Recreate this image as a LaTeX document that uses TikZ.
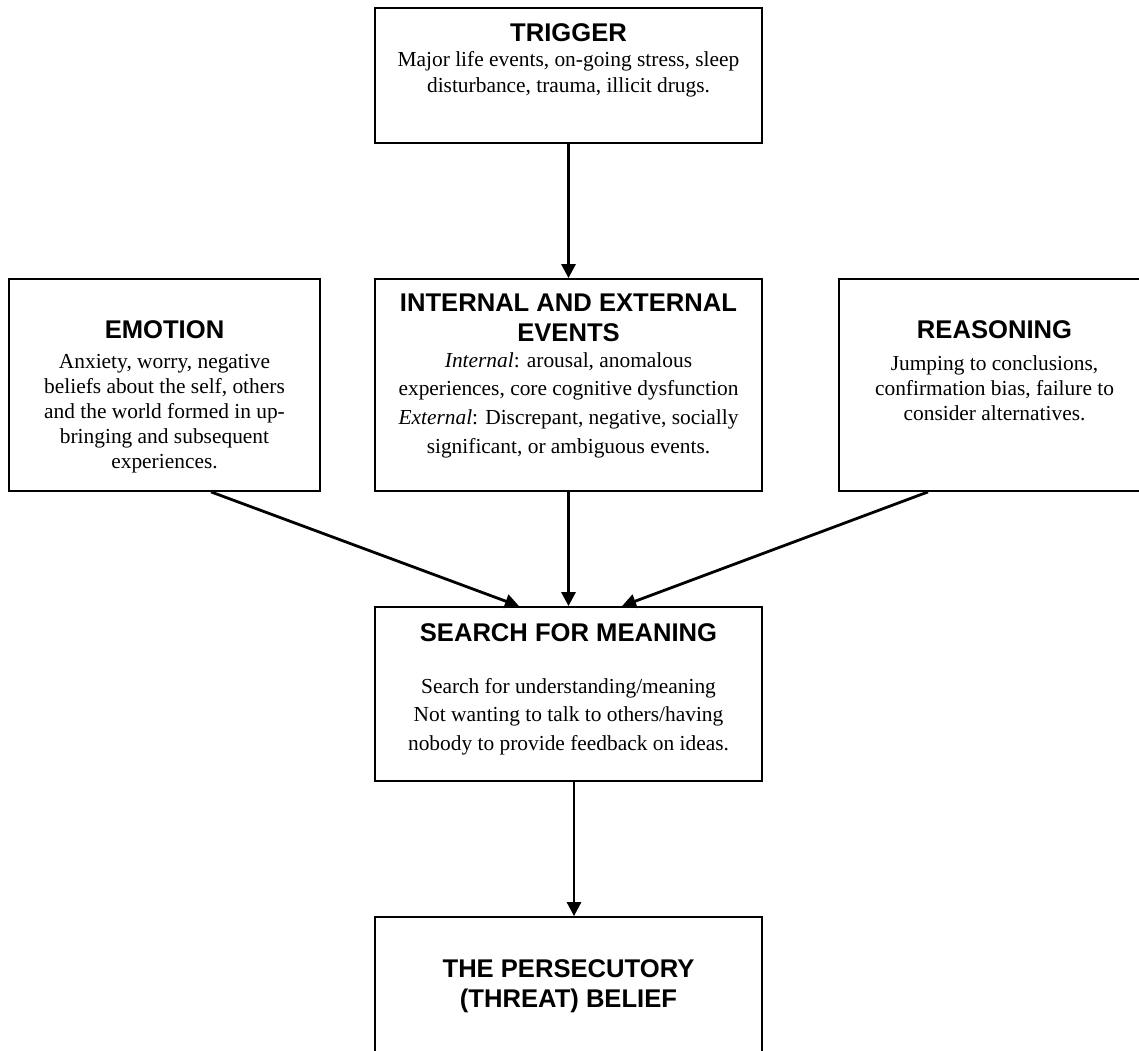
\documentclass[tikz,border=0pt]{standalone}
\usepackage{fontspec}
\setmainfont{Liberation Serif}
\setsansfont{Liberation Sans}
\usetikzlibrary{positioning,arrows.meta}

\tikzset{
  box/.style={draw, line width=0.9pt, inner sep=0pt, minimum width=193.5pt},
  head/.style={font=\sffamily\bfseries\fontsize{12.8}{14.6}\selectfont, align=center, anchor=base, inner sep=0pt},
  body/.style={font=\fontsize{10.7}{13}\selectfont, align=center, anchor=north, inner sep=0pt},
  link/.style={-{Triangle[length=7pt,width=7pt]}, line width=1.4pt}
}

\begin{document}
\begin{tikzpicture}[x=0.5pt,y=-0.5pt]
			\useasboundingbox (0,0) rectangle (1139,1050);
			\clip (0,0) rectangle (1139,1050);
			
			% Boxes
			\node[box, minimum height=67.5pt] (trigger) at (568.5,75.5) {};
			\node[box, minimum width=155.5pt, minimum height=106pt] (emotion) at (164.5,385) {};
			\node[box, minimum height=106pt] (events) at (568.5,385) {};
			\node[box, minimum width=155.5pt, minimum height=106pt] (reasoning) at (994.5,385) {};
			\node[box, minimum height=87pt] (search) at (568.5,694) {};
			\node[box, minimum height=90pt] (belief) at (568.5,1007) {};
			
			% Titles (base = last line)
			\node[head] (t-trigger) at (568.5,41.5) {TRIGGER};
			\node[head] (t-emotion) at (164.5,338) {EMOTION};
			\node[head] (t-events) at (568.5,341) {INTERNAL AND EXTERNAL\\EVENTS};
			\node[head] (t-reasoning) at (994.5,338) {REASONING};
			\node[head] (t-search) at (568.5,641) {SEARCH FOR MEANING};
			\node[head] (t-belief) at (568.5,1007) {THE PERSECUTORY\\(THREAT) BELIEF};
			
			% Texts
			\node[body] (b-trigger) at (568.5,51) {Major life events, on-going stress, sleep\\disturbance, trauma, illicit drugs.};
			\node[body, font=\fontsize{10.7}{12.5}\selectfont] (b-emotion) at (164.5,354) {Anxiety, worry, negative\\beliefs about the self, others\\and the world formed in up-\\bringing and subsequent\\experiences.};
			\node[body, font=\fontsize{10.7}{14.3}\selectfont] (b-events) at (568.5,352) {\textit{Internal}: arousal, anomalous\\experiences, core cognitive dysfunction\\\textit{External}: Discrepant, negative, socially\\significant, or ambiguous events.};
			\node[body, font=\fontsize{10.7}{12.5}\selectfont] (b-reasoning) at (994.5,355) {Jumping to conclusions,\\confirmation bias, failure to\\consider alternatives.};
			\node[body, font=\fontsize{10.7}{14.2}\selectfont] (b-search) at (568.5,678) {Search for understanding/meaning\\Not wanting to talk to others/having\\nobody to provide feedback on ideas.};
			
			% Arrows
			\draw[link] (trigger) -- (events);
			\draw[link] ([xshift=23.25pt]emotion.south) -- ([xshift=-24.75pt]search.north);
			\draw[link] (events) -- (search);
			\draw[link] ([xshift=-33.25pt]reasoning.south) -- ([xshift=26.75pt]search.north);
			\draw[link] ([xshift=2.75pt]search.south) -- ([xshift=2.75pt]belief.north);
		\end{tikzpicture}
\end{document}
